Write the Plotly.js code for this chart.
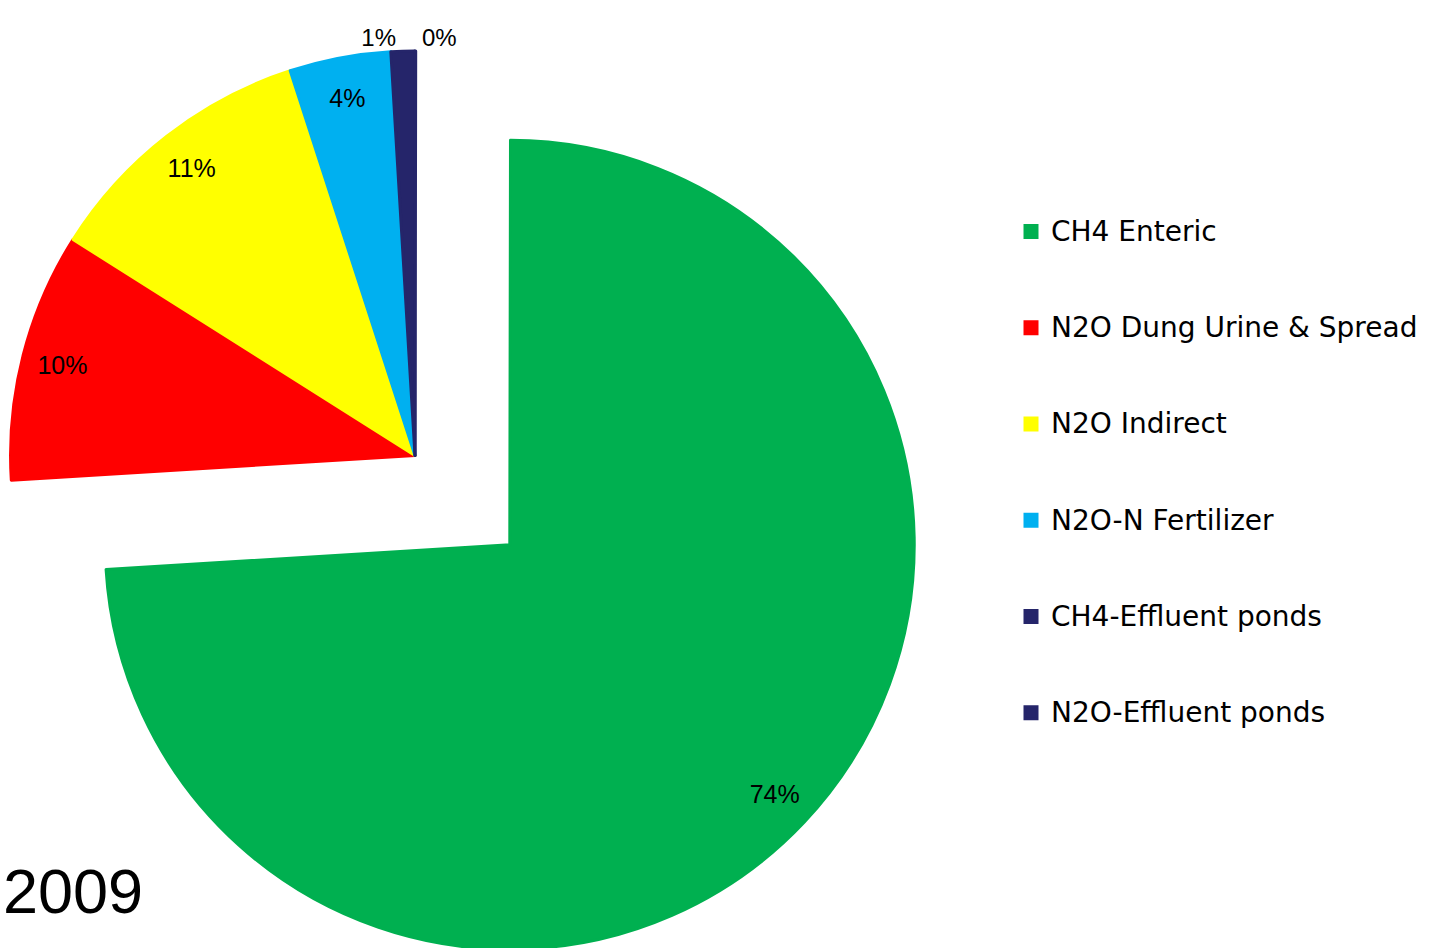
<!DOCTYPE html>
<html>
<head>
<meta charset="utf-8">
<script src="https://cdn.plot.ly/plotly-3.0.1.min.js"></script>
<style>
html, body { margin:0; padding:0; overflow:hidden; background:#fff; width:1439px; height:948px; }
#chart { position:absolute; left:-130px; top:-90px; width:1600px; height:1100px; }
</style>
</head>
<body>
<div id="chart"></div>
<script>
// ---- data ----
const categories = ['CH4 Enteric', 'N2O Dung Urine & Spread', 'N2O Indirect', 'N2O-N Fertilizer', 'CH4-Effluent ponds', 'N2O-Effluent ponds'];
const values = [74.0, 9.94, 11.04, 4.04, 0.94, 0.04];
const colors = ['#00B050', '#FF0000', '#FFFF00', '#00B0F0', '#25256A', '#25256A'];
const pulls = [0.322, 0, 0, 0, 0, 0];
const labelPositions = ['inside', 'inside', 'inside', 'inside', 'outside', 'outside'];
const yearLabel = '2009';

// ---- layout geometry (figure is larger than the viewport and shifted) ----
const W = 1600, H = 1100, OX = 130, OY = 90;
const cx = 415 + OX, cy = 455.5 + OY, half = 534.7;
const domain = { x: [(cx - half) / W, (cx + half) / W], y: [1 - (cy + half) / H, 1 - (cy - half) / H] };

const legendLabels = categories.map(c => '\u00a0<br><span style="font-size:28px">' + c + '</span><br>\u00a0');
const clear = categories.map(() => 'rgba(0,0,0,0)');

const slices = {
  type: 'pie',
  labels: legendLabels,
  values: values,
  sort: false,
  direction: 'clockwise',
  rotation: 0.1,
  pull: pulls,
  domain: domain,
  marker: { colors: colors, line: { color: colors, width: 3 } },
  textinfo: 'none',
  hoverinfo: 'skip',
  showlegend: true
};

const labelsTrace = {
  type: 'pie',
  labels: categories,
  values: values,
  sort: false,
  direction: 'clockwise',
  rotation: 0.1,
  pull: pulls,
  hole: 0.8,
  domain: domain,
  marker: { colors: clear, line: { width: 0 } },
  texttemplate: '%{percent:.0%}',
  textposition: labelPositions,
  insidetextorientation: 'horizontal',
  insidetextfont: { family: 'Liberation Sans, Arial, sans-serif', size: 25, color: '#000' },
  outsidetextfont: { family: 'Liberation Sans, Arial, sans-serif', size: 24, color: '#000' },
  automargin: false,
  hoverinfo: 'skip',
  showlegend: false
};

const layout = {
  width: W, height: H,
  margin: { l: 0, r: 0, t: 0, b: 0 },
  paper_bgcolor: '#fff',
  font: { family: 'Liberation Sans, Arial, sans-serif', color: '#000' },
  showlegend: true,
  legend: {
    x: (1011 + OX) / W, xanchor: 'left',
    y: 1 - (178.5 + OY) / H, yanchor: 'top',
    font: { family: 'DejaVu Sans, sans-serif', size: 23.9, color: '#000' },
    bgcolor: 'rgba(0,0,0,0)', borderwidth: 0, traceorder: 'normal'
  },
  annotations: [{
    text: yearLabel, showarrow: false,
    xref: 'paper', yref: 'paper',
    x: (1 + OX) / W, xanchor: 'left',
    y: 1 - (890.5 + OY) / H, yanchor: 'middle',
    font: { family: 'Liberation Sans, Arial, sans-serif', size: 63, color: '#000' }
  }]
};

Plotly.newPlot('chart', [slices, labelsTrace], layout, { staticPlot: true, displayModeBar: false });
</script>
</body>
</html>
